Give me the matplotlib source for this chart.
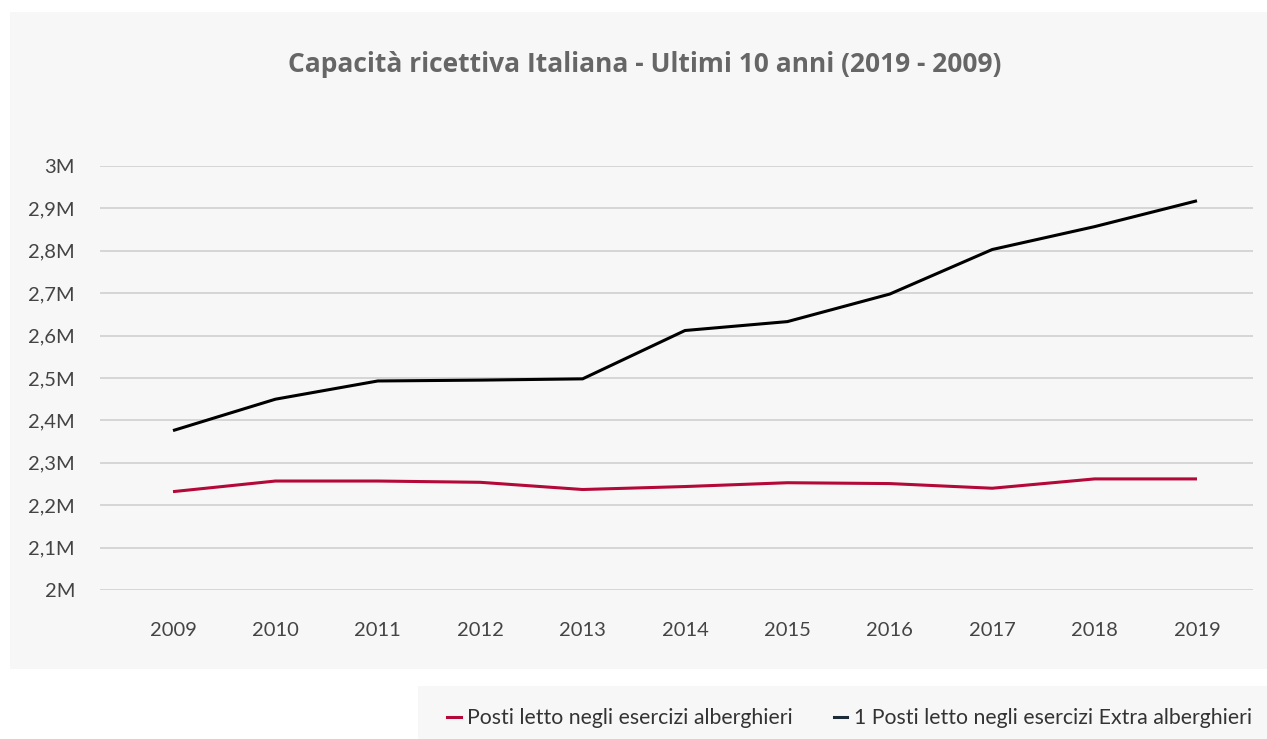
import matplotlib.pyplot as plt
from matplotlib.lines import Line2D
from matplotlib.patches import Rectangle
from matplotlib.ticker import FuncFormatter

# Dati (milioni di posti letto)
anni = ['2009', '2010', '2011', '2012', '2013', '2014', '2015', '2016', '2017', '2018', '2019']
alberghieri = [2.232, 2.257, 2.257, 2.254, 2.237, 2.244, 2.253, 2.251, 2.240, 2.262, 2.262]
extra_alberghieri = [2.376, 2.450, 2.493, 2.495, 2.498, 2.612, 2.633, 2.698, 2.803, 2.857, 2.918]
tick_y = [2.0, 2.1, 2.2, 2.3, 2.4, 2.5, 2.6, 2.7, 2.8, 2.9, 3.0]

titolo = 'Capacità ricettiva Italiana - Ultimi 10 anni (2019 - 2009)'
etichette = ['Posti letto negli esercizi alberghieri',
             '1 Posti letto negli esercizi Extra alberghieri']

ROSSO = '#b30838'
NERO = '#000000'
SFONDO = '#f7f7f7'

W, H = 1267, 739
fig = plt.figure(figsize=(W / 100, H / 100), dpi=100)
fig.patch.set_facecolor('white')

# pannelli grigi di sfondo (grafico e legenda)
fig.patches.append(Rectangle((10 / W, 1 - 669 / H), 1257 / W, 657 / H,
                             transform=fig.transFigure, facecolor=SFONDO,
                             edgecolor='none', zorder=-10))
fig.patches.append(Rectangle((418 / W, 0), 849 / W, 53 / H,
                             transform=fig.transFigure, facecolor=SFONDO,
                             edgecolor='none', zorder=-10))

ax = fig.add_axes([100 / W, 1 - 590 / H, 1153 / W, 424 / H])
ax.set_facecolor('none')

x = list(range(len(anni)))
ax.plot(x, alberghieri, color=ROSSO, linewidth=2.2, solid_capstyle='butt')
ax.plot(x, extra_alberghieri, color=NERO, linewidth=2.2, solid_capstyle='butt')

ax.set_xlim(-0.713, 10.547)
ax.set_ylim(2.0, 3.0)
ax.set_yticks(tick_y)
ax.set_xticks(x)
ax.set_xticklabels(anni)


def fmt_milioni(v, pos):
    s = f'{v:.1f}'.rstrip('0').rstrip('.')
    return s.replace('.', ',') + 'M'


ax.yaxis.set_major_formatter(FuncFormatter(fmt_milioni))
ax.grid(axis='y', color='#d0d0d0', linewidth=1.2)
ax.set_axisbelow(True)
for s in ax.spines.values():
    s.set_visible(False)
ax.tick_params(axis='both', length=0, labelsize=14.5, labelcolor='#444444')
ax.tick_params(axis='y', pad=18)
ax.tick_params(axis='x', pad=23)
for t in ax.get_xticklabels() + ax.get_yticklabels():
    t.set_fontfamily('Lato')

fig.text(645 / W, 1 - 65 / H, titolo, ha='center', va='center',
         fontsize=19, fontweight='bold', color='#666666', family='Open Sans')

handles = [Line2D([], [], color=ROSSO, linewidth=2.2),
           Line2D([], [], color='#1c2b3a', linewidth=2.2)]
fig.legend(handles, etichette, loc='center right',
           bbox_to_anchor=(1271 / W, 1 - 718 / H), ncol=2, frameon=False,
           handlelength=0.65, handletextpad=0.3, columnspacing=1.9,
           prop={'family': 'Lato', 'size': 15.3},
           labelcolor='#333333')

fig.savefig('out.png', dpi=100, facecolor='white')
